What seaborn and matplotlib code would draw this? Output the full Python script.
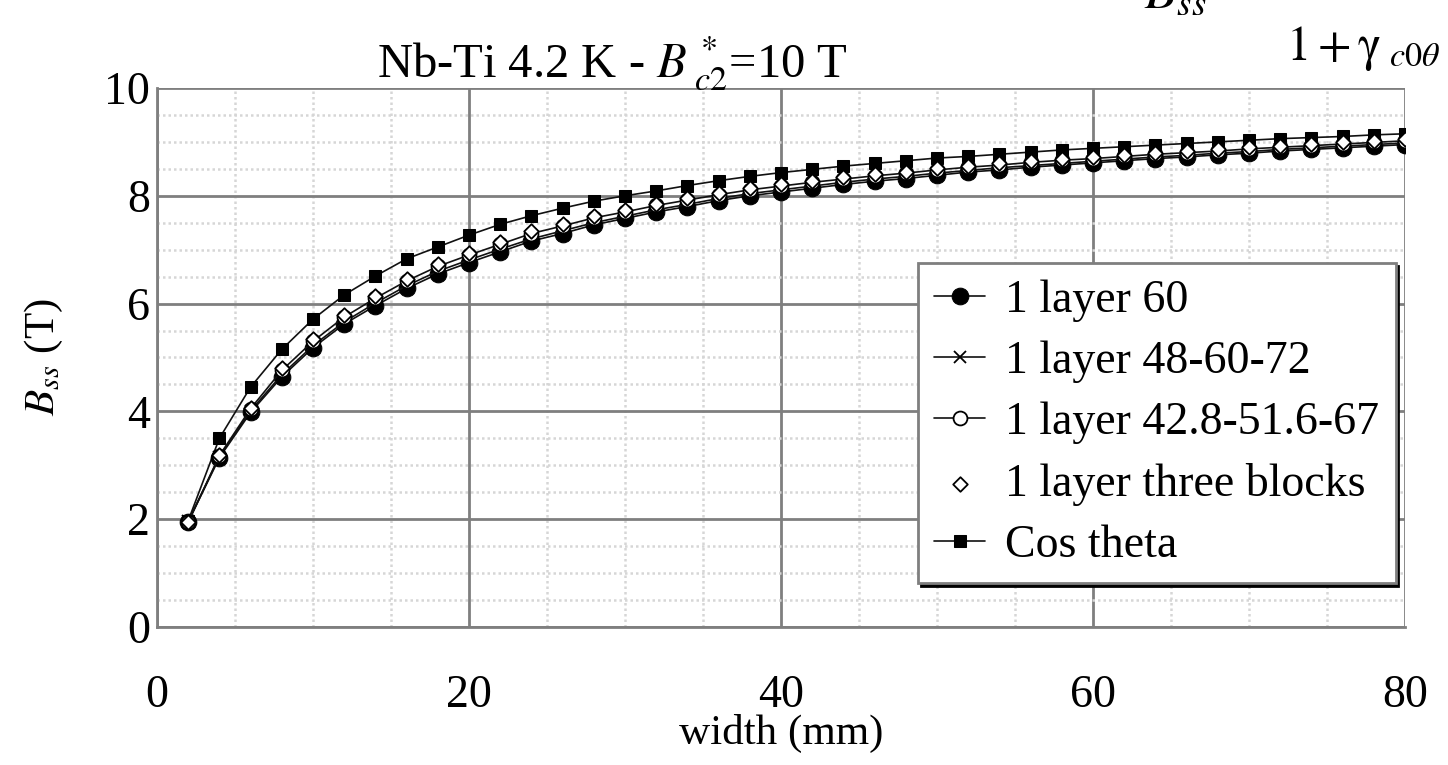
import numpy as np
import pandas as pd
import matplotlib
matplotlib.use('Agg')
import matplotlib.pyplot as plt
from matplotlib.ticker import MultipleLocator
import seaborn as sns

width_mm = list(range(2, 82, 2))

layer60 = [1.95, 3.14, 3.98, 4.64, 5.18, 5.62, 5.96, 6.28, 6.55, 6.76,
           6.96, 7.16, 7.30, 7.46, 7.58, 7.70, 7.80, 7.91, 8.00, 8.07,
           8.14, 8.21, 8.27, 8.32, 8.38, 8.44, 8.48, 8.53, 8.57, 8.61,
           8.65, 8.69, 8.72, 8.76, 8.79, 8.83, 8.86, 8.89, 8.92, 8.95]
layer48 = [1.96, 3.16, 4.01, 4.68, 5.22, 5.66, 6.01, 6.33, 6.60, 6.81,
           7.01, 7.20, 7.35, 7.50, 7.62, 7.74, 7.84, 7.95, 8.04, 8.11,
           8.18, 8.25, 8.31, 8.36, 8.42, 8.47, 8.52, 8.56, 8.60, 8.64,
           8.68, 8.72, 8.75, 8.79, 8.82, 8.86, 8.89, 8.92, 8.95, 8.98]
layer42 = [1.94, 3.18, 4.05, 4.76, 5.30, 5.75, 6.10, 6.42, 6.69, 6.90,
           7.10, 7.30, 7.44, 7.59, 7.70, 7.82, 7.92, 8.02, 8.11, 8.18,
           8.25, 8.31, 8.37, 8.42, 8.48, 8.53, 8.57, 8.62, 8.66, 8.69,
           8.73, 8.77, 8.80, 8.83, 8.87, 8.90, 8.93, 8.96, 8.99, 9.02]
three_blocks = [1.95, 3.20, 4.07, 4.80, 5.34, 5.79, 6.14, 6.46, 6.73, 6.94,
                7.14, 7.34, 7.48, 7.62, 7.74, 7.85, 7.95, 8.05, 8.14, 8.21,
                8.28, 8.34, 8.40, 8.45, 8.51, 8.56, 8.60, 8.65, 8.69, 8.72,
                8.76, 8.80, 8.83, 8.86, 8.90, 8.93, 8.96, 8.99, 9.02, 9.05]
cos_theta = [1.97, 3.50, 4.45, 5.15, 5.71, 6.16, 6.51, 6.83, 7.05, 7.27,
             7.47, 7.63, 7.77, 7.90, 8.00, 8.09, 8.19, 8.28, 8.36, 8.43,
             8.49, 8.55, 8.60, 8.65, 8.70, 8.73, 8.77, 8.81, 8.85, 8.88,
             8.91, 8.94, 8.97, 9.00, 9.03, 9.06, 9.08, 9.10, 9.13, 9.15]

labels = ['1 layer 60', '1 layer 48-60-72', '1 layer 42.8-51.6-67',
          '1 layer three blocks', 'Cos theta']

sns.set_style('white')
plt.rcParams['font.family'] = ['Liberation Serif', 'DejaVu Serif']
plt.rcParams['mathtext.fontset'] = 'stix'
plt.rcParams['text.color'] = 'black'
plt.rcParams['axes.labelcolor'] = 'black'

fig = plt.figure(figsize=(14.48, 7.65), dpi=100)
ax = fig.add_axes([0.1084, 0.1804, 0.8619, 0.7046])

grey = '#7f7f7f'
ax.xaxis.set_major_locator(MultipleLocator(20))
ax.xaxis.set_minor_locator(MultipleLocator(5))
ax.yaxis.set_major_locator(MultipleLocator(2))
ax.yaxis.set_minor_locator(MultipleLocator(0.5))
ax.grid(which='major', color=grey, linewidth=2, linestyle='-')
ax.grid(which='minor', color='#d6d6d6', linewidth=1.8, linestyle=(0, (1, 1.2)))
ax.set_axisbelow(True)

line_kw = dict(color='#111111', linewidth=1.2, ax=ax)
sns.lineplot(x=width_mm, y=cos_theta, marker='s', markersize=9,
             markerfacecolor='black', markeredgecolor='black', label=labels[4], **line_kw)
sns.lineplot(x=width_mm, y=layer60, marker='o', markersize=12,
             markerfacecolor='black', markeredgecolor='black', label=labels[0], **line_kw)
sns.lineplot(x=width_mm, y=layer48, marker='x', markersize=8, markeredgewidth=1.3,
             markeredgecolor='black', label=labels[1], **line_kw)
sns.lineplot(x=width_mm, y=layer42, marker='o', markersize=10,
             markerfacecolor='white', markeredgecolor='black', markeredgewidth=1.3,
             label=labels[2], **line_kw)
sns.scatterplot(x=width_mm, y=three_blocks, marker='D', s=55, color='white',
                edgecolor='black', linewidth=1.3, label=labels[3], ax=ax, zorder=5)

ax.set_xlim(0, 80)
ax.set_ylim(0, 10)
for side in ['left', 'bottom']:
    ax.spines[side].set_color(grey)
    ax.spines[side].set_linewidth(2)
for side in ['top', 'right']:
    ax.spines[side].set_visible(False)

ax.tick_params(axis='both', which='both', direction='in', color=grey, width=2,
               labelcolor='black')
ax.tick_params(axis='both', which='major', length=8, labelsize=33)
ax.tick_params(axis='both', which='minor', length=6)
ax.tick_params(axis='x', which='major', pad=34)
ax.tick_params(axis='y', which='major', pad=5)

ax.set_xlabel('width (mm)', fontsize=31, labelpad=-2)
ax.set_ylabel(r'$B_{ss}$ (T)', fontsize=31, labelpad=28)

handles, labs = ax.get_legend_handles_labels()
order = [labs.index(l) for l in labels]
leg = ax.legend([handles[i] for i in order], [labs[i] for i in order],
                loc='upper left', bbox_to_anchor=(0.61, 0.675), fontsize=33,
                frameon=True, fancybox=False, edgecolor=grey, framealpha=1,
                shadow={'color': 'black', 'alpha': 1}, labelspacing=0.41,
                handlelength=1.1, handletextpad=0.45, borderpad=0.35,
                borderaxespad=0)
leg.get_frame().set_linewidth(2)

fig.text(0.4227, 0.918, r'Nb-Ti 4.2 K - $B^{\,*}_{\ c2}$=10 T', fontsize=35,
         ha='center', va='center')
fig.text(0.790, 0.9895, r'$B_{ss}$', fontsize=38, ha='left', va='baseline')
fig.text(0.888, 0.922, r'$1+\mathrm{\gamma}_{\ c0\theta}$', fontsize=35,
         ha='left', va='baseline')

fig.savefig('out.png', dpi=100)
